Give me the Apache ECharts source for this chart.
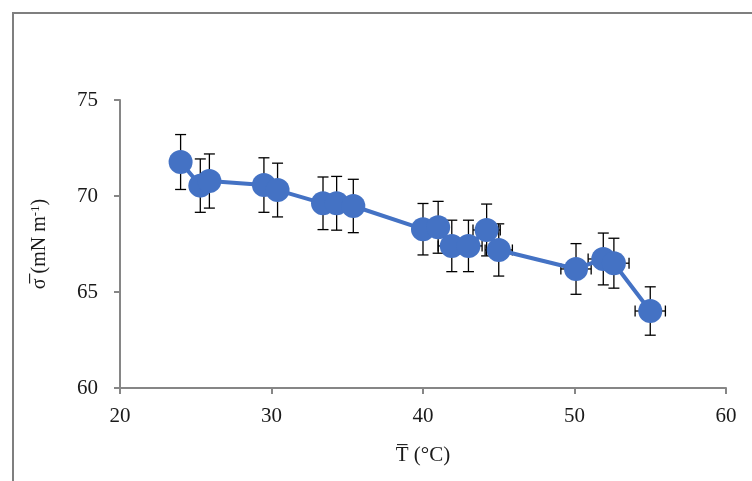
<!DOCTYPE html>
<html>
<head>
<meta charset="utf-8">
<script src="https://cdn.jsdelivr.net/npm/echarts@6/dist/echarts.min.js"></script>
<style>
  html, body { margin: 0; padding: 0; background: #fff; }
  #chart { width: 752px; height: 481px; }
</style>
</head>
<body>
<div id="chart"></div>
<script>
// mean temperature (°C) and surface tension (mN m-1)
const temperature = [24.0, 25.3, 25.9, 29.5, 30.4, 33.4, 34.3, 35.4, 40.0, 41.0, 41.9, 43.0, 44.2, 45.0, 50.1, 51.9, 52.6, 55.0];
const tension = [71.77, 70.54, 70.78, 70.57, 70.31, 69.62, 69.62, 69.48, 68.27, 68.37, 67.40, 67.40, 68.23, 67.19, 66.20, 66.72, 66.50, 64.01];
const temperatureErr = [0.5, 0.5, 0.5, 0.5, 0.5, 0.5, 0.5, 0.5, 0.5, 0.5, 0.9, 0.9, 0.9, 0.9, 1.0, 1.0, 1.0, 1.0];
const tensionErr = [1.43, 1.39, 1.41, 1.42, 1.40, 1.37, 1.40, 1.39, 1.34, 1.35, 1.34, 1.34, 1.35, 1.36, 1.32, 1.35, 1.30, 1.26];
const xTicks = [20, 30, 40, 50, 60];
const yTicks = [60, 65, 70, 75];

const chart = echarts.init(document.getElementById('chart'));

const points = temperature.map((t, i) => [t, tension[i]]);
const errData = temperature.map((t, i) => [t, tension[i], temperatureErr[i], tensionErr[i]]);

const font = 'Liberation Serif';
const blue = '#4472C4';
const ink = '#1a1a1a';

function renderErr(params, api) {
    const x = api.value(0), y = api.value(1), ex = api.value(2), ey = api.value(3);
    const top = api.coord([x, y + ey]);
    const bot = api.coord([x, y - ey]);
    const left = api.coord([x - ex, y]);
    const right = api.coord([x + ex, y]);
    const cap = 5.5;
    const style = { stroke: '#000', lineWidth: 1.3 };
    const seg = (x1, y1, x2, y2) => ({ type: 'line', shape: { x1, y1, x2, y2 }, style });
    return {
        type: 'group',
        children: [
            seg(top[0], top[1], bot[0], bot[1]),
            seg(top[0] - cap, top[1], top[0] + cap, top[1]),
            seg(bot[0] - cap, bot[1], bot[0] + cap, bot[1]),
            seg(left[0], left[1], right[0], right[1]),
            seg(left[0], left[1] - cap, left[0], left[1] + cap),
            seg(right[0], right[1] - cap, right[0], right[1] + cap)
        ]
    };
}

const option = {
    animation: false,
    backgroundColor: '#fff',
    graphic: [
        {
            type: 'rect',
            shape: { x: 13, y: 13, width: 800, height: 520 },
            style: { fill: 'none', stroke: '#7f7f7f', lineWidth: 2 },
            silent: true
        }
    ],
    grid: { left: 120, right: 26, top: 100, bottom: 93 },
    xAxis: {
        type: 'value',
        min: xTicks[0],
        max: xTicks[xTicks.length - 1],
        interval: 10,
        name: 'T\u0305 (°C)',
        nameLocation: 'middle',
        nameGap: 57,
        nameTextStyle: { fontFamily: font, fontSize: 21, color: ink },
        axisLine: { lineStyle: { color: '#868686', width: 2 } },
        axisTick: { show: true, length: 6, lineStyle: { color: '#868686', width: 2 } },
        axisLabel: { fontFamily: font, fontSize: 21, color: ink, margin: 18 },
        splitLine: { show: false }
    },
    yAxis: {
        type: 'value',
        min: yTicks[0],
        max: yTicks[yTicks.length - 1],
        interval: 5,
        name: '{a|σ\u0305 (mN m}{s|-1}{a|)}',
        nameLocation: 'middle',
        nameGap: 70,
        nameRotate: 90,
        nameTextStyle: {
            rich: {
                a: { fontFamily: font, fontSize: 20, color: ink },
                s: { fontFamily: font, fontSize: 13, color: ink, verticalAlign: 'top', padding: [0, 0, 8, 0] }
            }
        },
        axisLine: { show: true, lineStyle: { color: '#868686', width: 2 } },
        axisTick: { show: true, length: 6, lineStyle: { color: '#868686', width: 2 } },
        axisLabel: { fontFamily: font, fontSize: 21, color: ink, margin: 22 },
        splitLine: { show: false }
    },
    series: [
        {
            type: 'custom',
            renderItem: renderErr,
            data: errData,
            z: 1,
            silent: true
        },
        {
            type: 'line',
            data: points,
            symbol: 'circle',
            symbolSize: 24,
            lineStyle: { color: blue, width: 4 },
            itemStyle: { color: blue },
            z: 3
        }
    ]
};

chart.setOption(option);
</script>
</body>
</html>
